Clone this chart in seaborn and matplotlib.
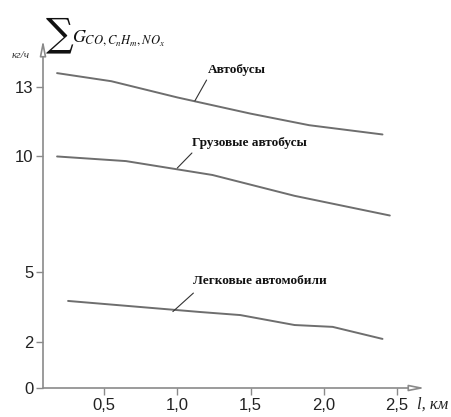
import matplotlib
matplotlib.use("Agg")
import matplotlib.pyplot as plt
import seaborn as sns
import pandas as pd

# ---- data ----
bus_x = [0.18, 0.55, 1.00, 1.50, 1.90, 2.40]
bus_y = [13.6, 13.25, 12.55, 11.85, 11.35, 10.95]
truck_x = [0.18, 0.65, 1.24, 1.80, 2.45]
truck_y = [10.0, 9.8, 9.2, 8.3, 7.45]
car_x = [0.255, 0.82, 1.16, 1.43, 1.80, 2.06, 2.40]
car_y = [3.76, 3.46, 3.28, 3.15, 2.72, 2.64, 2.12]
series_names = ["Автобусы", "Грузовые автобусы", "Легковые автомобили"]

x_ticks = [0.5, 1.0, 1.5, 2.0, 2.5]
x_tick_labels = ["0,5", "1,0", "1,5", "2,0", "2,5"]
y_ticks = [0, 2, 5, 10, 13]
y_tick_labels = ["0", "2", "5", "10", "13"]

df = pd.concat([
    pd.DataFrame({"l": bus_x, "G": bus_y, "s": series_names[0]}),
    pd.DataFrame({"l": truck_x, "G": truck_y, "s": series_names[1]}),
    pd.DataFrame({"l": car_x, "G": car_y, "s": series_names[2]}),
])

sns.set_style("white")
plt.rcParams["font.family"] = ["Liberation Sans", "DejaVu Sans"]
plt.rcParams["mathtext.fontset"] = "stix"

W, H = 452, 417
fig = plt.figure(figsize=(W / 100, H / 100), dpi=100)
ax = fig.add_axes([43 / W, 29 / H, (425 - 43) / W, (388 - 40) / H])

axcol = "#8a8a8a"
linecol = "#6e6e6e"

sns.lineplot(data=df, x="l", y="G", units="s", estimator=None, sort=False,
             color=linecol, linewidth=1.4, ax=ax, legend=False)

ax.set_xlim(0.084, 2.69)
ax.set_ylim(0, 15.03)
ax.set_xticks(x_ticks)
ax.set_xticklabels(x_tick_labels)
ax.set_yticks(y_ticks)
ax.set_yticklabels(y_tick_labels)
ax.set_xlabel("")
ax.set_ylabel("")
for sp in ["top", "right", "left", "bottom"]:
    ax.spines[sp].set_visible(False)
ax.tick_params(axis="both", direction="out", length=5, width=1, color=axcol,
               labelsize=12, labelcolor="#222222", pad=2, left=True, bottom=True)

# axes with hollow arrowheads
ax.annotate("", xy=(1.0, 0), xytext=(0, 0), xycoords="axes fraction",
            arrowprops=dict(arrowstyle="-|>,head_length=0.9,head_width=0.18",
                            color=axcol, fc="white", lw=1.2, shrinkA=0, shrinkB=0),
            annotation_clip=False)
ax.annotate("", xy=(0, 1.0), xytext=(0, 0), xycoords="axes fraction",
            arrowprops=dict(arrowstyle="-|>,head_length=0.9,head_width=0.18",
                            color=axcol, fc="white", lw=1.2, shrinkA=0, shrinkB=0),
            annotation_clip=False)

# axis labels
fig.text(417 / W, 1 - 405 / H, "l, км", fontsize=12, style="italic",
         family=["Liberation Serif"], ha="left", va="center", color="#222222")
fig.text(21 / W, 1 - 55 / H, "кг/ч", fontsize=8, style="italic",
         family=["Liberation Serif"], ha="center", va="center", color="#333333")
fig.text(46 / W, 1 - 35 / H, "∑", fontsize=28, family=["DejaVu Serif"],
         ha="left", va="center", color="#111111")
fig.text(72 / W, 1 - 38 / H, r"$G_{CO,C_nH_m,NO_x}$", fontsize=13,
         ha="left", va="center", color="#111111")

# curve labels with leader lines
labels = [
    (series_names[0], (1.12, 12.4), (1.20, 13.3), (1.21, 13.75)),
    (series_names[1], (1.00, 9.5), (1.10, 10.15), (1.10, 10.58)),
    (series_names[2], (0.97, 3.3), (1.11, 4.1), (1.11, 4.6)),
]
for txt, p0, p1, tpos in labels:
    ax.plot([p0[0], p1[0]], [p0[1], p1[1]], color="#333333", lw=0.8)
    ax.text(tpos[0], tpos[1], txt, fontsize=9.5, fontweight="bold",
            family=["Liberation Serif"], ha="left", va="center", color="#111111")

fig.savefig("out.png", dpi=100)
